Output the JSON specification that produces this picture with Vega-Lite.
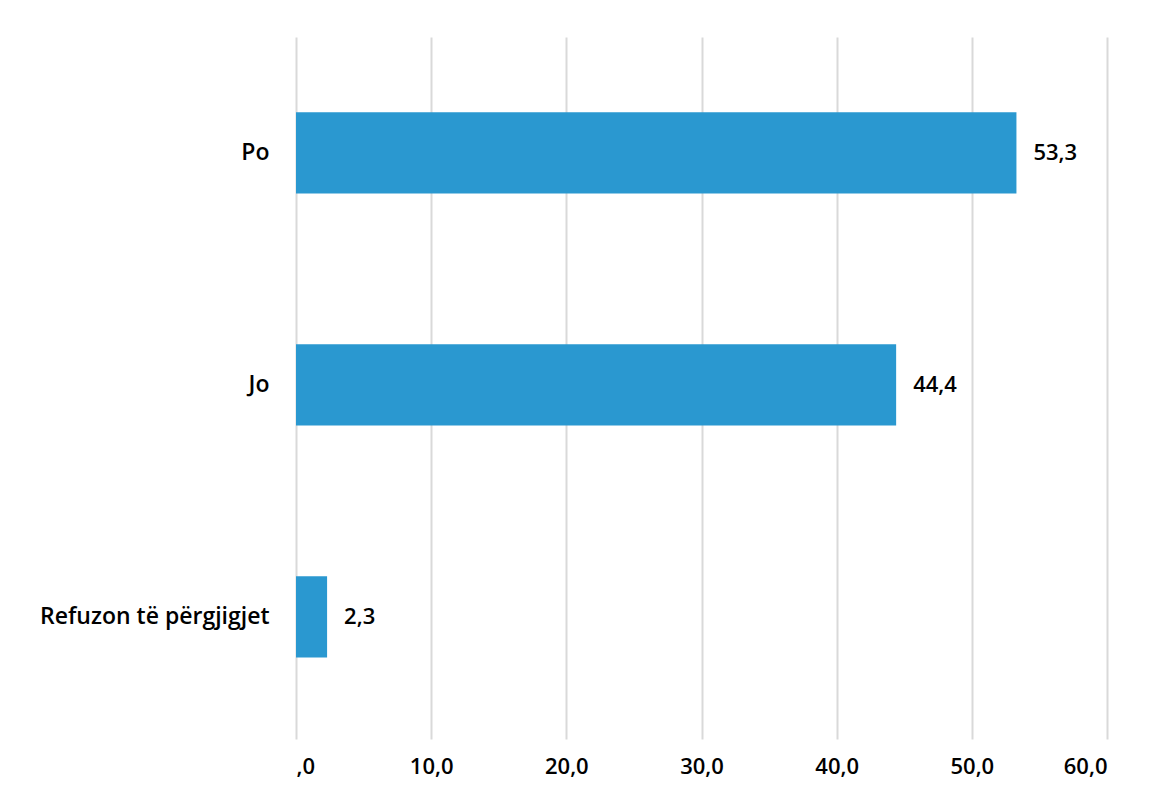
{
  "$schema": "https://vega.github.io/schema/vega-lite/v6.json",
  "autosize": {"type": "none"},
  "width": 811,
  "height": 702,
  "padding": {"left": 296, "top": 37, "right": 43, "bottom": 50},
  "background": "white",
  "config": {
    "view": {"stroke": null},
    "locale": {"number": {"decimal": ",", "thousands": ".", "grouping": [3], "currency": ["", " €"]}},
    "font": "Open Sans"
  },
  "data": {
    "values": [
      {"answer": "Po", "value": 53.3},
      {"answer": "Jo", "value": 44.4},
      {"answer": "Refuzon të përgjigjet", "value": 2.3}
    ]
  },
  "encoding": {
    "y": {
      "field": "answer",
      "type": "nominal",
      "sort": null,
      "title": null,
      "scale": {"paddingInner": 0.65, "paddingOuter": 0.338, "align": 0.48},
      "axis": {
        "domain": false,
        "ticks": false,
        "labelFont": "Open Sans",
        "labelFontSize": 23,
        "labelFontWeight": 600,
        "labelColor": "#000000",
        "labelPadding": 27,
        "labelLimit": 300
      }
    },
    "x": {
      "field": "value",
      "type": "quantitative",
      "title": null,
      "scale": {"domain": [0, 60], "nice": false},
      "axis": {
        "values": [0, 10, 20, 30, 40, 50, 60],
        "labelExpr": "datum.value == 0 ? ',0' : format(datum.value, '.1f')",
        "domain": false,
        "ticks": false,
        "grid": true,
        "gridColor": "#d9d9d9",
        "gridWidth": 2,
        "labelFont": "Open Sans",
        "labelFontSize": 22,
        "labelFontWeight": 600,
        "labelColor": "#000000",
        "labelPadding": 17
      }
    }
  },
  "layer": [
    {"mark": {"type": "bar", "color": "#2a98d0"}},
    {
      "mark": {"type": "text", "align": "left", "dx": 17, "font": "Open Sans", "fontSize": 22, "fontWeight": 600, "color": "#000000"},
      "encoding": {"text": {"field": "value", "type": "quantitative", "format": ".1f"}}
    }
  ]
}
